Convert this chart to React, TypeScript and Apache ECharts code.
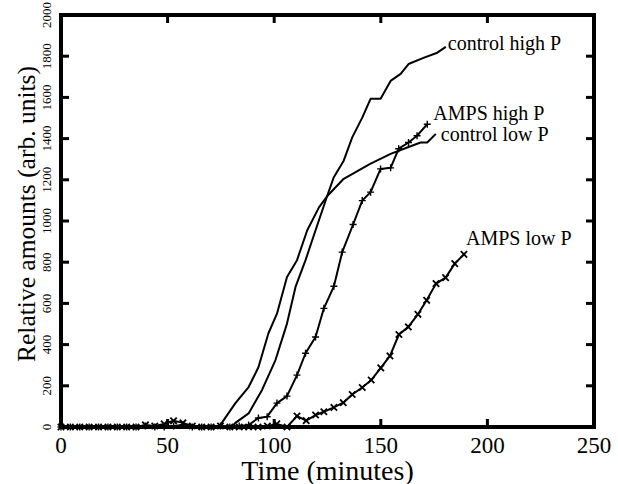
import React, { useEffect, useRef } from "react";
import * as echarts from "echarts";

const FONT = '"Liberation Serif", "Times New Roman", serif';

const xTicks = [0, 50, 100, 150, 200, 250];
const yTicks = [0, 200, 400, 600, 800, 1000, 1200, 1400, 1600, 1800, 2000];

const controlHighTime = [0, 20, 40, 60, 80, 81.8, 88, 94.3, 100.6, 106, 110, 114.7, 119.4, 124.8, 127.9, 132.6, 136.6, 141.3, 145.2, 149.9, 154.6, 159.3, 163, 170, 176.5, 180.5];
const controlHighValue = [0, 0, 0, 0, 0, 20, 66, 180, 325, 502, 680, 810, 955, 1120, 1211, 1293, 1406, 1502, 1593, 1593, 1680, 1714, 1762, 1792, 1817, 1845];

const controlLowTime = [0, 20, 40, 60, 74, 75.5, 81.8, 88, 92.6, 97.3, 101.3, 106, 110.7, 115.5, 121, 124.8, 132.6, 145, 154.6, 162.4, 168.7, 171.8, 175.8];
const controlLowValue = [0, 0, 0, 0, 0, 21, 116, 194, 290, 455, 550, 728, 810, 955, 1066, 1120, 1205, 1277, 1326, 1357, 1381, 1381, 1423];

const ampsHighTime = [0, 4.4, 8.8, 13.2, 17.6, 22, 26.4, 30.8, 35.2, 39.6, 44, 48.4, 52.8, 57.2, 61.6, 66, 70.4, 74.8, 79.2, 83.6, 88, 92.6, 96.7, 101.3, 106, 110.7, 114.7, 119.4, 123.3, 128, 131.9, 137, 141.3, 145.2, 149.9, 154.6, 158.4, 163, 167, 171.8];
const ampsHighValue = [0, 0, 0, 0, 0, 0, 0, 0, 0, 5, 0, 0, 5, 10, 0, 0, 0, 5, 0, 5, 10, 44, 50, 116, 150, 252, 358, 437, 576, 683, 849, 983, 1099, 1140, 1253, 1258, 1351, 1381, 1414, 1470];

const ampsLowTime = [0, 4.4, 8.8, 13.2, 17.6, 22, 26.4, 30.8, 35.2, 39.6, 44, 48.4, 52.8, 57.2, 61.6, 66, 70.4, 74.8, 79.2, 83.6, 88, 92.4, 96.8, 101.2, 106, 110.7, 115, 119.4, 123.3, 128, 132.4, 136.6, 141.3, 145.5, 150, 154.3, 158.5, 162.9, 167.4, 171.5, 175.9, 180.4, 184.7, 189];
const ampsLowValue = [0, 0, 0, 0, 0, 0, 0, 0, 0, 10, 5, 15, 30, 20, 5, 0, 0, 5, 0, 0, 0, 0, 5, 15, 0, 53, 31, 58, 74, 95, 118, 158, 192, 228, 287, 345, 449, 486, 547, 615, 696, 725, 793, 838];

const PLUS = "path://M-0.2,-1H0.2V-0.2H1V0.2H0.2V1H-0.2V0.2H-1V-0.2H-0.2Z";

function pairs(t: number[], v: number[]) {
  return t.map((x, i) => [x, v[i]]);
}

export default function App() {
  const ref = useRef<HTMLDivElement>(null);
  useEffect(() => {
    if (!ref.current) return;
    const chart = echarts.init(ref.current, null, { renderer: "svg" });
    const labelStyle = { fontFamily: FONT, fontSize: 20, color: "#000" };
    const lineBase = {
      type: "line",
      xAxisIndex: 0,
      yAxisIndex: 0,
      lineStyle: { color: "#000", width: 2 },
      itemStyle: { color: "#000" },
      silent: true,
    };
    const xMin = xTicks[0];
    const xMax = xTicks[xTicks.length - 1];
    const yMin = yTicks[0];
    const yMax = yTicks[yTicks.length - 1];
    const TL = 8;
    const TW = 3;
    const tickSeries = (data: number[][], size: number[], offset: number[]) => ({
      type: "scatter",
      silent: true,
      clip: false,
      z: 5,
      symbol: "rect",
      symbolSize: size,
      symbolOffset: offset,
      itemStyle: { color: "#000", opacity: 1 },
      data,
    });

    chart.setOption({
      animation: false,
      backgroundColor: "#fff",
      grid: {
        show: true,
        borderColor: "#000",
        borderWidth: 4,
        left: 61,
        right: 24,
        top: 15,
        bottom: 57,
        containLabel: false,
        outerBoundsMode: "none",
      },
      graphic: [
        {
          type: "text",
          x: 26,
          y: 214,
          rotation: Math.PI / 2,
          silent: true,
          style: {
            text: "Relative amounts (arb. units)",
            fontFamily: FONT,
            fontSize: 25.5,
            fill: "#000",
            align: "center",
            verticalAlign: "middle",
            textAlign: "center",
            textVerticalAlign: "middle",
          },
        },
      ],
      xAxis: [
        {
          type: "value",
          min: xMin,
          max: xMax,
          interval: 50,
          position: "bottom",
          axisLine: { show: false },
          axisTick: { show: false },
          splitLine: { show: false },
          axisLabel: {
            fontFamily: FONT,
            fontSize: 23,
            lineHeight: 22,
            color: "#000",
            margin: 7,
            formatter: (v: number) => String(v),
          },
          name: "Time (minutes)",
          nameLocation: "middle",
          nameGap: 30,
          nameMoveOverlap: false,
          nameTextStyle: { fontFamily: FONT, fontSize: 28, lineHeight: 26, color: "#000" },
        },
      ],
      yAxis: [
        {
          type: "value",
          min: yMin,
          max: yMax,
          interval: 200,
          position: "left",
          axisLine: { show: false },
          axisTick: { show: false },
          splitLine: { show: false },
          axisLabel: {
            fontFamily: FONT,
            fontSize: 13,
            color: "#000",
            rotate: 90,
            margin: 8,
            formatter: (v: number) => String(v),
          },
        },
      ],
      series: [
        tickSeries(xTicks.map((v) => [v, yMin]), [TW, TL], [0, -TL / 2]),
        tickSeries(xTicks.map((v) => [v, yMax]), [TW, TL], [0, TL / 2]),
        tickSeries(yTicks.map((v) => [xMin, v]), [TL, TW], [TL / 2, 0]),
        tickSeries(yTicks.map((v) => [xMax, v]), [TL, TW], [-TL / 2, 0]),
        {
          ...lineBase,
          name: "control high P",
          data: pairs(controlHighTime, controlHighValue),
          showSymbol: false,
          symbol: "none",
          endLabel: { show: true, formatter: "control high P", distance: 0, offset: [2, -4], ...labelStyle },
        },
        {
          ...lineBase,
          name: "control low P",
          data: pairs(controlLowTime, controlLowValue),
          showSymbol: false,
          symbol: "none",
          endLabel: { show: true, formatter: "control low P", distance: 0, offset: [5, 0], ...labelStyle },
        },
        {
          ...lineBase,
          name: "AMPS high P",
          data: pairs(ampsHighTime, ampsHighValue),
          symbol: PLUS,
          symbolSize: 7,
          showSymbol: true,
          showAllSymbol: true,
          endLabel: { show: true, formatter: "AMPS high P", distance: 0, offset: [6, -11], ...labelStyle },
        },
        {
          ...lineBase,
          name: "AMPS low P",
          data: pairs(ampsLowTime, ampsLowValue),
          symbol: PLUS,
          symbolSize: 9,
          symbolRotate: 45,
          showSymbol: true,
          showAllSymbol: true,
          endLabel: { show: true, formatter: "AMPS low P", distance: 0, offset: [2, -16], ...labelStyle },
        },
      ],
    });
    return () => chart.dispose();
  }, []);
  return (
    <div
      ref={ref}
      style={{ position: "fixed", left: 0, top: 0, width: 618, height: 484, background: "#fff" }}
    />
  );
}
